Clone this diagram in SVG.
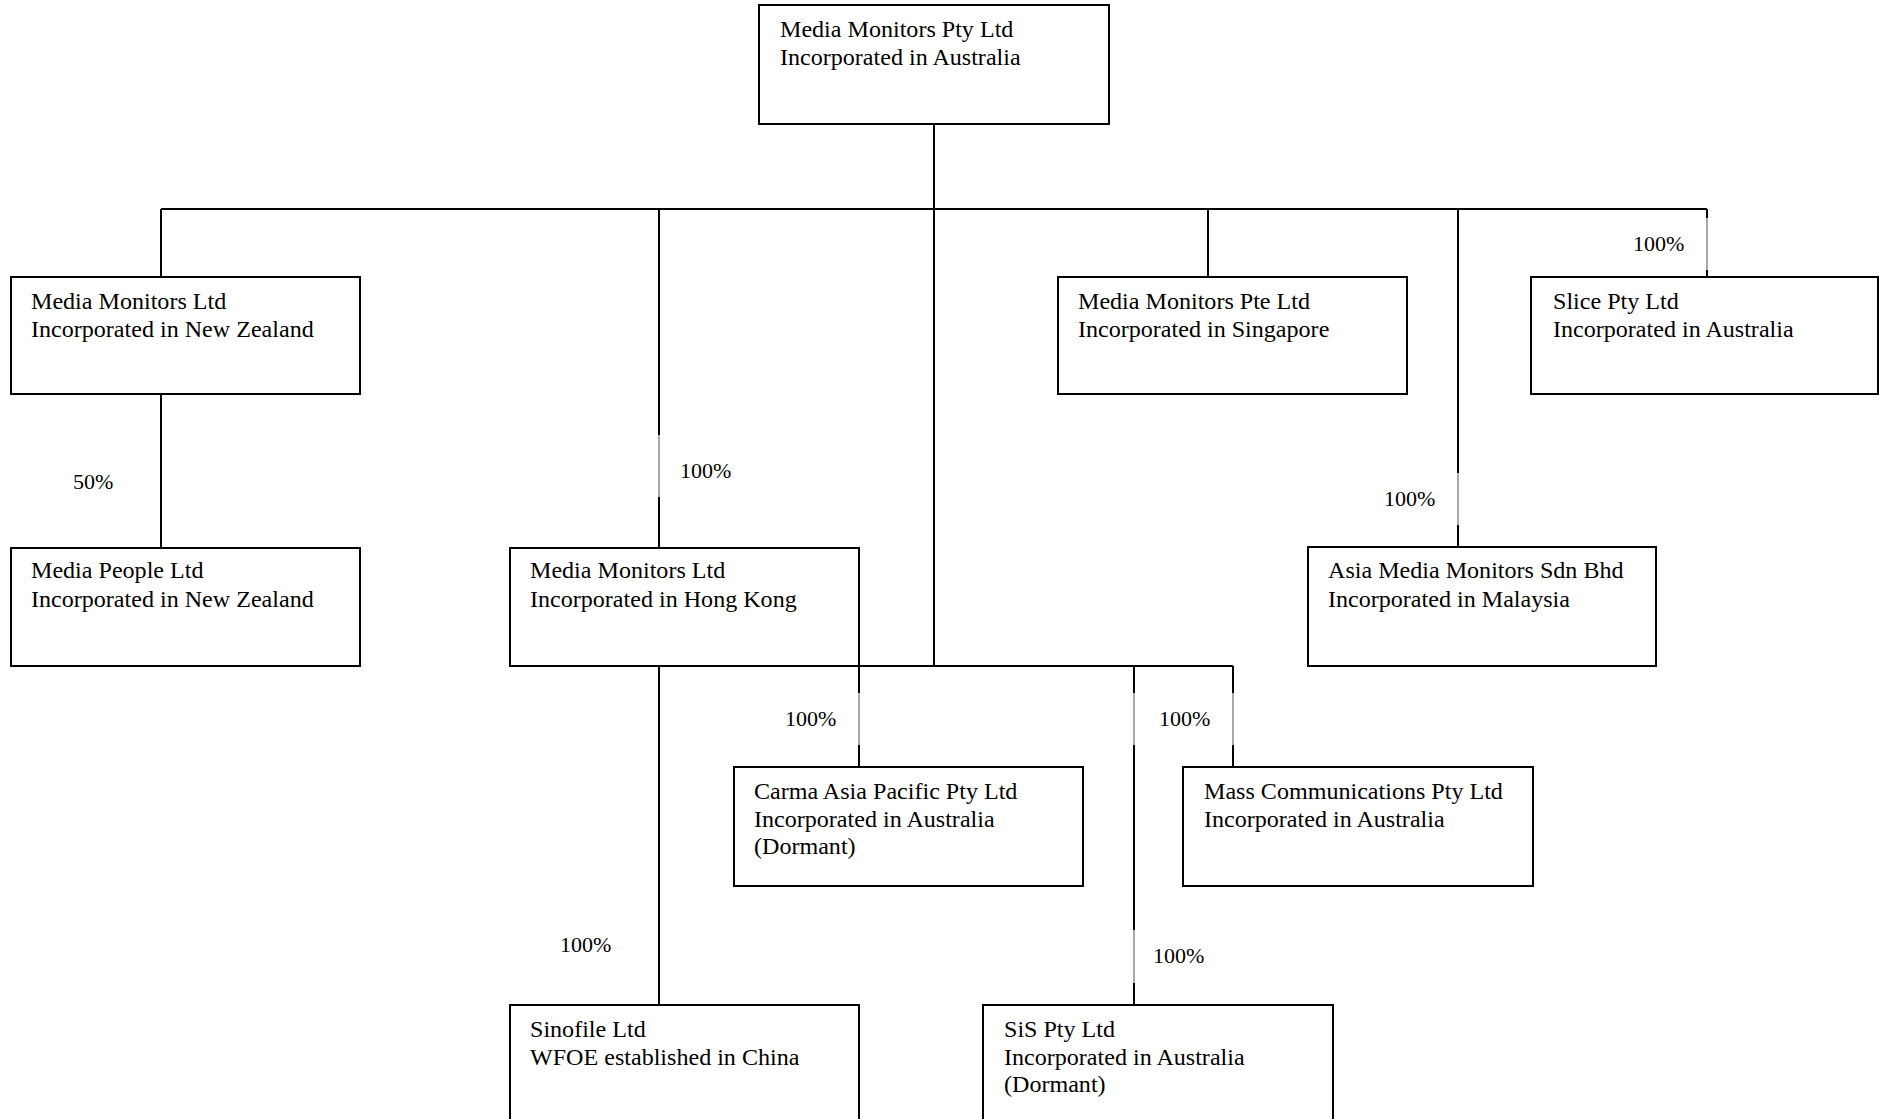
<svg xmlns="http://www.w3.org/2000/svg" width="1879" height="1119" viewBox="0 0 1879 1119">
<style>
.box{fill:#fff;stroke:#000;stroke-width:2}
.ln{stroke:#000;stroke-width:2;fill:none}
.th{stroke:#555;stroke-width:1;fill:none}
.t{font-family:"Liberation Serif","Times New Roman",serif;font-size:22.5px;fill:#000}
.lb{font-family:"Liberation Serif","Times New Roman",serif;font-size:22px;fill:#000}
</style>
<rect width="1879" height="1119" fill="#fff"/>
<g id="connectors">
<path class="ln" d="M934,124V666M161,209H1707M161,209V277M161,394V548M659,209V435M659,497V548M1208,209V277M1458,209V473M1458,525V547M1707,209V218M1707,270V277M859,666H1233M859,666V693M859,745V767M1134,666V693M1134,745V930M1134,983V1005M1233,666V693M1233,745V767M659,666V1005"/>
<path class="th" d="M659,435V497M1458,473V525M1707,218V270M859,693V745M1134,693V745M1134,930V983M1233,693V745"/>
<text class="lb" x="73" y="489">50%</text>
<text class="lb" x="680" y="478">100%</text>
<text class="lb" x="1633" y="251">100%</text>
<text class="lb" x="1384" y="506">100%</text>
<text class="lb" x="785" y="726">100%</text>
<text class="lb" x="1159" y="726">100%</text>
<text class="lb" x="560" y="952">100%</text>
<text class="lb" x="1153" y="963">100%</text>
</g>
<g id="n-top"><rect class="box" x="759" y="5" width="350" height="119"/>
<text class="t" transform="translate(780,37) scale(1.07,1)"><tspan x="0" y="0">Media Monitors Pty Ltd</tspan><tspan x="0" y="28">Incorporated in Australia</tspan></text></g>
<g id="n-nz"><rect class="box" x="11" y="277" width="349" height="117"/>
<text class="t" transform="translate(31,309) scale(1.07,1)"><tspan x="0" y="0">Media Monitors Ltd</tspan><tspan x="0" y="28">Incorporated in New Zealand</tspan></text></g>
<g id="n-sg"><rect class="box" x="1058" y="277" width="349" height="117"/>
<text class="t" transform="translate(1078,309) scale(1.07,1)"><tspan x="0" y="0">Media Monitors Pte Ltd</tspan><tspan x="0" y="28">Incorporated in Singapore</tspan></text></g>
<g id="n-slice"><rect class="box" x="1531" y="277" width="347" height="117"/>
<text class="t" transform="translate(1553,309) scale(1.07,1)"><tspan x="0" y="0">Slice Pty Ltd</tspan><tspan x="0" y="28">Incorporated in Australia</tspan></text></g>
<g id="n-mp"><rect class="box" x="11" y="548" width="349" height="118"/>
<text class="t" transform="translate(31,578) scale(1.07,1)"><tspan x="0" y="0">Media People Ltd</tspan><tspan x="0" y="29">Incorporated in New Zealand</tspan></text></g>
<g id="n-hk"><rect class="box" x="510" y="548" width="349" height="118"/>
<text class="t" transform="translate(530,578) scale(1.07,1)"><tspan x="0" y="0">Media Monitors Ltd</tspan><tspan x="0" y="29">Incorporated in Hong Kong</tspan></text></g>
<g id="n-my"><rect class="box" x="1308" y="547" width="348" height="119"/>
<text class="t" transform="translate(1328,578) scale(1.07,1)"><tspan x="0" y="0">Asia Media Monitors Sdn Bhd</tspan><tspan x="0" y="29">Incorporated in Malaysia</tspan></text></g>
<g id="n-carma"><rect class="box" x="734" y="767" width="349" height="119"/>
<text class="t" transform="translate(754,799) scale(1.07,1)"><tspan x="0" y="0">Carma Asia Pacific Pty Ltd</tspan><tspan x="0" y="28">Incorporated in Australia</tspan><tspan x="0" y="55">(Dormant)</tspan></text></g>
<g id="n-mass"><rect class="box" x="1183" y="767" width="350" height="119"/>
<text class="t" transform="translate(1204,799) scale(1.07,1)"><tspan x="0" y="0">Mass Communications Pty Ltd</tspan><tspan x="0" y="28">Incorporated in Australia</tspan></text></g>
<g id="n-sino"><rect class="box" x="510" y="1005" width="349" height="118"/>
<text class="t" transform="translate(530,1037) scale(1.07,1)"><tspan x="0" y="0">Sinofile Ltd</tspan><tspan x="0" y="28">WFOE established in China</tspan></text></g>
<g id="n-sis"><rect class="box" x="983" y="1005" width="350" height="118"/>
<text class="t" transform="translate(1004,1037) scale(1.07,1)"><tspan x="0" y="0">SiS Pty Ltd</tspan><tspan x="0" y="28">Incorporated in Australia</tspan><tspan x="0" y="55">(Dormant)</tspan></text></g>
</svg>
